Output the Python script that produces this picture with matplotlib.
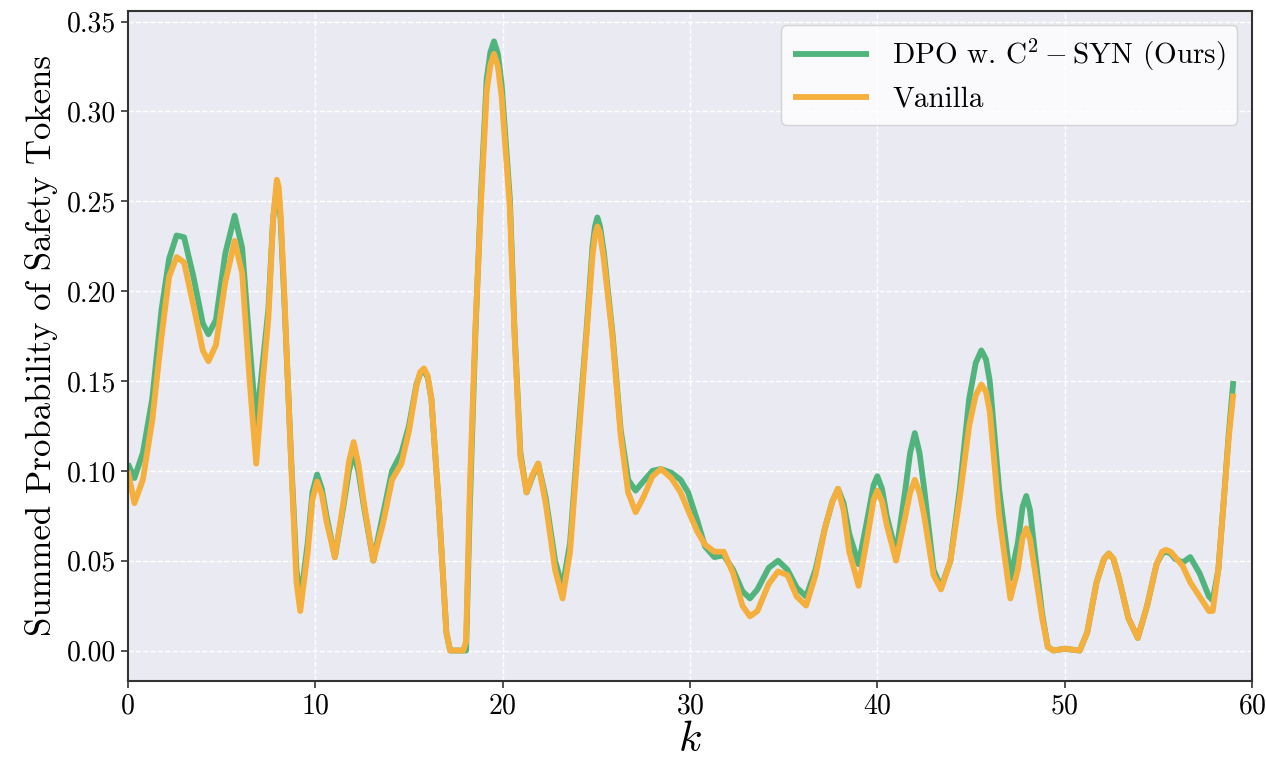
import matplotlib
matplotlib.use("Agg")
import matplotlib.pyplot as plt

plt.rcParams['font.family'] = 'serif'
plt.rcParams['font.serif'] = ['cmr10']
plt.rcParams['mathtext.fontset'] = 'cm'
plt.rcParams['axes.formatter.use_mathtext'] = True

# values, at k positions
K = [0.0, 0.35, 0.8, 1.3, 1.8, 2.2, 2.6, 3.0, 3.5, 4.0, 4.3, 4.7, 5.2, 5.7, 6.1,
     6.5, 6.85, 7.2, 7.5, 7.75, 7.95, 8.05, 8.15, 8.35, 8.7,
     9.0, 9.2, 9.6, 9.85, 10.1, 10.35, 10.6, 11.05, 11.5, 11.8, 12.05, 12.3,
     12.6, 13.1, 13.6, 14.1, 14.6, 15.0, 15.4, 15.6, 15.8, 16.0, 16.2, 16.6,
     17.0, 17.2, 17.9, 18.05,
     18.25, 18.55, 18.85, 19.15, 19.35, 19.54, 19.75, 19.95, 20.39, 20.64, 20.95,
     21.28, 21.6, 21.9, 22.3, 22.8, 23.2, 23.6, 24.0, 24.47, 24.8, 24.93, 25.06,
     25.2, 25.4, 25.86, 26.3, 26.7, 27.1,
     27.5, 28.0, 28.45, 29.0, 29.5, 29.9, 30.4, 30.8, 31.3, 31.8, 32.3, 32.8,
     33.2, 33.6, 34.2, 34.7, 35.2, 35.7, 36.2, 36.7, 37.2, 37.6, 37.9, 38.2,
     38.5, 39.0, 39.5, 39.8, 40.0, 40.25, 40.5, 41.0,
     41.5, 41.75, 42.0, 42.25, 42.5, 43.0, 43.4, 43.9, 44.4, 44.9, 45.25, 45.55,
     45.8, 46.0, 46.5, 47.1, 47.5, 47.75, 47.95, 48.15, 48.4, 48.8, 49.1, 49.4,
     50.0, 50.8, 51.2, 51.7, 52.1, 52.35, 52.6, 52.9, 53.4, 53.9, 54.4, 54.9,
     55.2, 55.4, 55.65, 55.9, 56.3, 56.7, 57.2, 57.7, 57.9, 58.2, 58.5, 58.75,
     59.0]

ours = [0.104, 0.096, 0.110, 0.140, 0.190, 0.218, 0.231, 0.230, 0.208, 0.182,
        0.176, 0.184, 0.221, 0.242, 0.224, 0.170, 0.126, 0.160, 0.190, 0.240,
        0.258, 0.254, 0.240, 0.195, 0.110,
        0.045, 0.027, 0.060, 0.088, 0.098, 0.090, 0.075, 0.052, 0.080, 0.100,
        0.110, 0.100, 0.080, 0.050, 0.075, 0.100, 0.110, 0.125, 0.148, 0.154,
        0.156, 0.152, 0.140, 0.080, 0.010, 0.000, 0.000, 0.000,
        0.080, 0.177, 0.255, 0.318, 0.333, 0.339, 0.332, 0.315, 0.251, 0.177,
        0.110, 0.088, 0.097, 0.104, 0.085, 0.050, 0.035, 0.060, 0.115, 0.177,
        0.225, 0.236, 0.241, 0.236, 0.222, 0.177, 0.123, 0.095, 0.089,
        0.094, 0.100, 0.101, 0.099, 0.095, 0.088, 0.072, 0.058, 0.052, 0.053,
        0.045, 0.033, 0.029, 0.034, 0.046, 0.050, 0.045, 0.035, 0.030, 0.045,
        0.068, 0.083, 0.090, 0.082, 0.065, 0.048, 0.075, 0.092, 0.097, 0.090,
        0.075, 0.054,
        0.090, 0.110, 0.121, 0.110, 0.090, 0.045, 0.035, 0.050, 0.090, 0.140,
        0.160, 0.167, 0.162, 0.150, 0.090, 0.040, 0.060, 0.080, 0.086, 0.078,
        0.055, 0.020, 0.002, 0.000,
        0.001, 0.000, 0.010, 0.038, 0.051, 0.054, 0.051, 0.040, 0.018, 0.007,
        0.025, 0.048, 0.054, 0.055, 0.054, 0.051, 0.049, 0.052, 0.043, 0.030,
        0.028, 0.045, 0.085, 0.120, 0.150]

vanilla = [0.100, 0.082, 0.095, 0.128, 0.175, 0.208, 0.219, 0.216, 0.192, 0.167,
           0.161, 0.170, 0.205, 0.228, 0.210, 0.150, 0.104, 0.150, 0.185, 0.240,
           0.262, 0.258, 0.243, 0.198, 0.108,
           0.038, 0.022, 0.055, 0.084, 0.094, 0.087, 0.072, 0.052, 0.082, 0.105,
           0.116, 0.104, 0.082, 0.050, 0.070, 0.095, 0.104, 0.122, 0.147, 0.155,
           0.157, 0.153, 0.140, 0.080, 0.010, 0.000, 0.000, 0.005,
           0.090, 0.180, 0.250, 0.311, 0.326, 0.332, 0.325, 0.308, 0.246, 0.175,
           0.108, 0.088, 0.098, 0.104, 0.082, 0.045, 0.029, 0.055, 0.110, 0.175,
           0.220, 0.231, 0.236, 0.232, 0.218, 0.175, 0.120, 0.088, 0.077,
           0.085, 0.097, 0.101, 0.096, 0.088, 0.078, 0.066, 0.059, 0.055, 0.055,
           0.043, 0.025, 0.019, 0.022, 0.037, 0.044, 0.042, 0.030, 0.025, 0.042,
           0.068, 0.083, 0.090, 0.078, 0.055, 0.036, 0.065, 0.084, 0.089, 0.083,
           0.070, 0.050,
           0.075, 0.088, 0.095, 0.088, 0.075, 0.042, 0.034, 0.050, 0.085, 0.125,
           0.142, 0.148, 0.144, 0.133, 0.075, 0.029, 0.045, 0.063, 0.068, 0.062,
           0.045, 0.018, 0.002, 0.000,
           0.001, 0.000, 0.010, 0.038, 0.051, 0.054, 0.051, 0.040, 0.018, 0.007,
           0.025, 0.048, 0.055, 0.056, 0.055, 0.052, 0.047, 0.038, 0.030, 0.022,
           0.022, 0.045, 0.085, 0.118, 0.143]

LABEL_OURS = 'DPO w. C$^2-$SYN (Ours)'
LABEL_VANILLA = 'Vanilla'

fig = plt.figure(figsize=(12.66, 7.58), dpi=100)
ax = fig.add_axes([0.101, 0.1016, 0.888, 0.884])
ax.set_facecolor('#EAEAF2')
ax.grid(True, color='white', linestyle='--', linewidth=1.0)
ax.set_axisbelow(True)

ax.plot(K, ours, color='#52B47D', linewidth=4.2, label=LABEL_OURS,
        solid_joinstyle='round', solid_capstyle='butt')
ax.plot(K, vanilla, color='#F5AF3C', linewidth=4.2, label=LABEL_VANILLA,
        solid_joinstyle='round', solid_capstyle='butt')

ax.set_xlim(0, 60)
ax.set_yticks([0.0, 0.05, 0.10, 0.15, 0.20, 0.25, 0.30, 0.35])
ax.set_yticklabels(['0.00', '0.05', '0.10', '0.15', '0.20', '0.25', '0.30', '0.35'])
ax.tick_params(labelsize=20, length=5, width=1.2, color='#333333')
for s in ax.spines.values():
    s.set_color('#333333')
    s.set_linewidth(1.5)

ax.set_xlabel('$k$', fontsize=31, labelpad=2)
ax.set_ylabel('Summed Probability of Safety Tokens', fontsize=25, labelpad=6)

leg = ax.legend(loc='upper right', fontsize=21, handlelength=2.6,
                borderaxespad=0.5, labelspacing=0.45, frameon=True,
                fancybox=True, framealpha=0.8, edgecolor='#cccccc')

fig.savefig('out.png', dpi=100)
